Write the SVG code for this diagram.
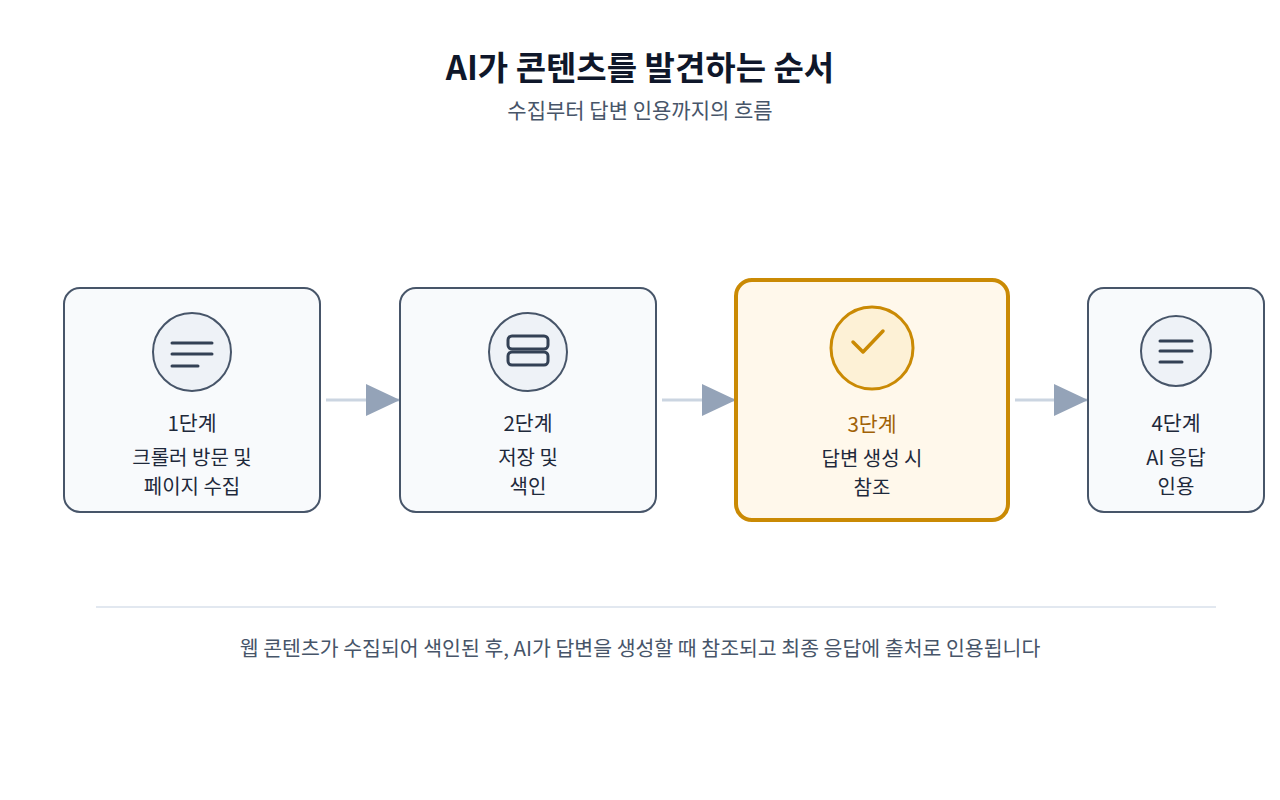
<svg xmlns="http://www.w3.org/2000/svg" width="1280" height="800" viewBox="0 0 1280 800">
<style>
text{font-family:"Noto Sans CJK KR","Noto Sans",sans-serif;text-anchor:middle}
.box{fill:#f8fafc;stroke:#475569;stroke-width:2}
.ic{fill:#eef2f7;stroke:#475569;stroke-width:2}
.ln{stroke:#334155;stroke-width:3;stroke-linecap:round;fill:none}
.t{font-size:20.5px;fill:#1e293b}
.d{font-size:20px;fill:#1e293b}
.conn{stroke:#cbd5e1;stroke-width:3;fill:none}
</style>
<defs><marker id="ar" markerWidth="34" markerHeight="34" viewBox="0 0 34 34" refX="34" refY="17" markerUnits="userSpaceOnUse" orient="auto"><path d="M0,1 L34,17 L0,33 Z" fill="#94a3b8"/></marker></defs>
<rect width="1280" height="800" fill="#fff"/>
<text x="640" y="80" font-size="33" font-weight="600" fill="#0f172a">AI가 콘텐츠를 발견하는 순서</text>
<text x="640" y="118" font-size="21" fill="#475569">수집부터 답변 인용까지의 흐름</text>
<g id="connectors">
<line class="conn" x1="326" y1="400" x2="400" y2="400" marker-end="url(#ar)"/>
<line class="conn" x1="662" y1="400" x2="736" y2="400" marker-end="url(#ar)"/>
<line class="conn" x1="1015" y1="400" x2="1088" y2="400" marker-end="url(#ar)"/>
</g>
<g id="n1">
<rect class="box" x="64" y="288" width="256" height="224" rx="16"/>
<circle class="ic" cx="192" cy="352" r="39"/>
<path class="ln" d="M172,343h40M172,354h40M172,366h26"/>
<text class="t" x="192" y="431">1단계</text>
<text class="d" x="192" y="465">크롤러 방문 및</text>
<text class="d" x="192" y="494">페이지 수집</text>
</g>
<g id="n2">
<rect class="box" x="400" y="288" width="256" height="224" rx="16"/>
<circle class="ic" cx="528" cy="352" r="39"/>
<rect x="508" y="336" width="40" height="13" rx="4" fill="none" stroke="#334155" stroke-width="3"/>
<rect x="508" y="352" width="40" height="13" rx="4" fill="none" stroke="#334155" stroke-width="3"/>
<text class="t" x="528" y="431">2단계</text>
<text class="d" x="528" y="465">저장 및</text>
<text class="d" x="528" y="494">색인</text>
</g>
<g id="n3">
<rect x="736" y="280" width="272" height="240" rx="16" fill="#fff8eb" stroke="#ca8a04" stroke-width="4"/>
<circle cx="872" cy="348" r="41" fill="#fdf1d6" stroke="#ca8a04" stroke-width="3"/>
<path d="M853,342l10,10l20,-21" fill="none" stroke="#ca8a04" stroke-width="3.5" stroke-linecap="round" stroke-linejoin="round"/>
<text class="t" x="872" y="432" style="fill:#a16207">3단계</text>
<text class="d" x="872" y="466">답변 생성 시</text>
<text class="d" x="872" y="495">참조</text>
</g>
<g id="n4">
<rect class="box" x="1088" y="288" width="176" height="224" rx="16"/>
<circle class="ic" cx="1176" cy="351" r="35"/>
<path class="ln" d="M1160,341h32M1160,351h32M1160,362h22"/>
<text class="t" x="1176" y="431">4단계</text>
<text class="d" x="1176" y="465">AI 응답</text>
<text class="d" x="1176" y="494">인용</text>
</g>
<line x1="96" y1="607" x2="1216" y2="607" stroke="#e2e8f0" stroke-width="2"/>
<text x="640" y="656" font-size="20.5" fill="#475569">웹 콘텐츠가 수집되어 색인된 후, AI가 답변을 생성할 때 참조되고 최종 응답에 출처로 인용됩니다</text>
</svg>
